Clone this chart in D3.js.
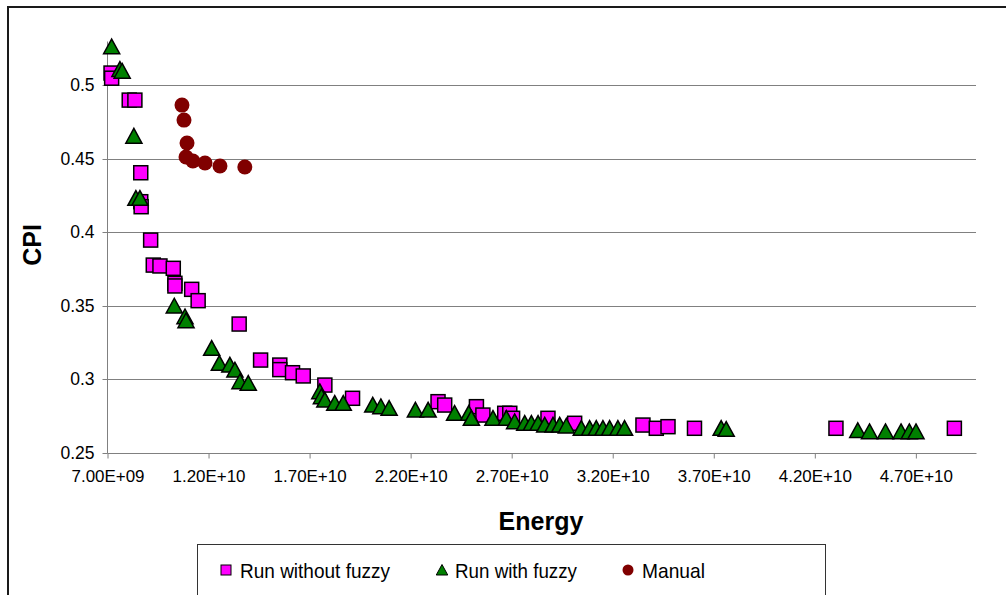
<!DOCTYPE html>
<html>
<head>
<meta charset="utf-8">
<script src="https://cdn.jsdelivr.net/npm/d3@7"></script>
<style>
  body { margin: 0; background: #fff; }
  svg { display: block; font-family: 'Liberation Sans', Arial, sans-serif; }
</style>
</head>
<body>
<div id="chart"></div>
<script>
const chartWidth = 1006
const chartHeight = 595

// Run without fuzzy (energy, cpi)
const noFuzzyEnergy = [7.20e9, 7.23e9, 8.10e9, 8.38e9, 8.67e9, 8.67e9, 8.69e9, 9.16e9, 9.29e9, 9.62e9,
  10.28e9, 10.36e9, 10.36e9, 11.19e9, 11.51e9, 13.54e9, 14.60e9, 15.55e9, 15.55e9, 16.18e9,
  16.71e9, 17.78e9, 19.15e9, 23.38e9, 23.71e9, 25.28e9, 25.60e9, 26.68e9, 26.93e9, 27.07e9,
  28.82e9, 30.14e9, 33.52e9, 34.18e9, 34.76e9, 36.07e9, 43.07e9, 48.93e9]
const noFuzzyCpi = [0.5082, 0.5047, 0.4898, 0.4898, 0.4404, 0.4207, 0.4173, 0.3946, 0.3776, 0.3770,
  0.3754, 0.3652, 0.3634, 0.3611, 0.3534, 0.3375, 0.3130, 0.3096, 0.3065, 0.3044,
  0.3022, 0.2960, 0.2870, 0.2847, 0.2824, 0.2813, 0.2756, 0.2768, 0.2768, 0.2734,
  0.2734, 0.2700, 0.2688, 0.2666, 0.2677, 0.2666, 0.2666, 0.2666]

// Run with fuzzy
const fuzzyEnergy = [7.23e9, 7.64e9, 7.75e9, 8.33e9, 8.43e9, 8.63e9, 10.33e9, 10.86e9, 10.91e9, 12.18e9,
  12.56e9, 13.08e9, 13.33e9, 13.58e9, 13.99e9, 17.53e9, 17.61e9, 17.78e9, 18.27e9, 18.69e9,
  20.15e9, 20.55e9, 20.96e9, 22.26e9, 22.89e9, 24.20e9, 24.90e9, 25.03e9, 26.10e9, 26.76e9,
  27.17e9, 27.67e9, 28.00e9, 28.33e9, 28.66e9, 29.07e9, 29.40e9, 29.73e9, 30.47e9, 30.88e9,
  31.21e9, 31.54e9, 31.87e9, 32.28e9, 32.61e9, 37.39e9, 37.64e9, 44.15e9, 44.73e9, 45.52e9,
  46.29e9, 46.70e9, 47.03e9]
const fuzzyCpi = [0.5261, 0.5107, 0.5095, 0.4653, 0.4230, 0.4230, 0.3498, 0.3425, 0.3398, 0.3210,
  0.3108, 0.3096, 0.3062, 0.2983, 0.2972, 0.2915, 0.2881, 0.2858, 0.2836, 0.2836,
  0.2824, 0.2813, 0.2802, 0.2790, 0.2790, 0.2768, 0.2768, 0.2734, 0.2734, 0.2734,
  0.2711, 0.2700, 0.2700, 0.2700, 0.2688, 0.2688, 0.2688, 0.2682, 0.2666, 0.2666,
  0.2666, 0.2666, 0.2666, 0.2666, 0.2666, 0.2666, 0.2659, 0.2651, 0.2643, 0.2643,
  0.2643, 0.2643, 0.2643]

// Manual
const manualEnergy = [10.71e9, 10.81e9, 10.96e9, 10.91e9, 11.25e9, 11.85e9, 12.59e9, 13.82e9]
const manualCpi = [0.4864, 0.4762, 0.4606, 0.4511, 0.4484, 0.4470, 0.4450, 0.4443]

const xTicks = [7e9, 12e9, 17e9, 22e9, 27e9, 32e9, 37e9, 42e9, 47e9]
const yTicks = [0.25, 0.3, 0.35, 0.4, 0.45, 0.5]
const seriesNames = ['Run without fuzzy', 'Run with fuzzy', 'Manual']

const colors = { square: '#ff00ff', triangle: '#008000', circle: '#800000' }

const plot = { left: 107, right: 976, top: 41, bottom: 452.7 }

const svg = d3.select('#chart').append('svg')
  .attr('width', chartWidth).attr('height', chartHeight)

// 外框
svg.append('rect')
  .attr('x', 8).attr('y', 7)
  .attr('width', 1010).attr('height', 600)
  .attr('fill', 'none').attr('stroke', '#1a1a1a').attr('stroke-width', 2)

const x = d3.scaleLinear().domain([7e9, 5e10]).range([plot.left, plot.right])
const y = d3.scaleLinear().domain([0.25, 0.53]).range([plot.bottom, plot.top])

// gridlines
svg.append('g')
  .selectAll('line')
  .data(yTicks.slice(1))
  .enter().append('line')
  .attr('x1', plot.left).attr('x2', plot.right)
  .attr('y1', d => Math.round(y(d)) + 0.5).attr('y2', d => Math.round(y(d)) + 0.5)
  .attr('stroke', '#808080').attr('stroke-width', 1)

// y axis
const yAxis = svg.append('g')
  .attr('transform', `translate(${plot.left + 0.5},0.5)`)
  .call(d3.axisLeft(y).tickValues(yTicks).tickFormat(d => String(d)).tickSize(5).tickPadding(8))
yAxis.select('.domain').attr('stroke', '#808080').attr('d', `M0,${plot.top}V${Math.round(plot.bottom)}`)
yAxis.selectAll('.tick line').attr('stroke', '#808080')
yAxis.selectAll('.tick').attr('transform', d => `translate(0,${Math.round(y(d))})`)
yAxis.selectAll('text').attr('font-size', 17.5).attr('fill', '#000').attr('font-family', 'Liberation Sans, Arial')

// x axis
const xAxis = svg.append('g')
  .attr('transform', `translate(0.5,${Math.round(plot.bottom) + 0.5})`)
  .call(d3.axisBottom(x).tickValues(xTicks).tickFormat(d => d3.format('.2e')(d).replace('e+', 'E+').replace(/E\+(\d)$/, 'E+0$1')).tickSize(5).tickPadding(11))
xAxis.select('.domain').attr('stroke', '#808080').attr('d', `M${plot.left},0H${plot.right}`)
xAxis.selectAll('.tick line').attr('stroke', '#808080')
xAxis.selectAll('text')
  .attr('font-size', 17).attr('fill', '#000').attr('font-family', 'Liberation Sans, Arial')
  .attr('textLength', 73).attr('lengthAdjust', 'spacingAndGlyphs')

// axis titles
svg.append('text')
  .attr('x', 541).attr('y', 530)
  .attr('text-anchor', 'middle')
  .attr('font-size', 25).attr('font-weight', 'bold')
  .text('Energy')

svg.append('text')
  .attr('transform', 'translate(41,245) rotate(-90)')
  .attr('text-anchor', 'middle')
  .attr('font-size', 25).attr('font-weight', 'bold')
  .text('CPI')

const marks = svg.append('g')

function trianglePath(s) {
  const w = s * 1.15
  return `M0,${-s * 0.55}L${w / 2},${s * 0.5}L${-w / 2},${s * 0.5}Z`
}

// squares
marks.append('g').selectAll('rect')
  .data(d3.zip(noFuzzyEnergy, noFuzzyCpi))
  .enter().append('rect')
  .attr('x', d => x(d[0]) - 7).attr('y', d => y(d[1]) - 7)
  .attr('width', 14).attr('height', 14)
  .attr('fill', colors.square).attr('stroke', '#000').attr('stroke-width', 1.5)

// triangles
marks.append('g').selectAll('path')
  .data(d3.zip(fuzzyEnergy, fuzzyCpi))
  .enter().append('path')
  .attr('transform', d => `translate(${x(d[0])},${y(d[1])})`)
  .attr('d', trianglePath(14))
  .attr('fill', colors.triangle).attr('stroke', '#000').attr('stroke-width', 1.5)
  .attr('stroke-linejoin', 'miter')

// circles
marks.append('g').selectAll('circle')
  .data(d3.zip(manualEnergy, manualCpi))
  .enter().append('circle')
  .attr('cx', d => x(d[0])).attr('cy', d => y(d[1]))
  .attr('r', 7.5)
  .attr('fill', colors.circle)

// legend
const legend = svg.append('g')
legend.append('rect')
  .attr('x', 197.5).attr('y', 544.5)
  .attr('width', 628).attr('height', 70)
  .attr('fill', '#fff').attr('stroke', '#333').attr('stroke-width', 1)

const legendX = [226, 442, 628]
const legendY = 570
legend.append('rect')
  .attr('x', legendX[0] - 5).attr('y', legendY - 5)
  .attr('width', 10).attr('height', 10)
  .attr('fill', colors.square).attr('stroke', '#000').attr('stroke-width', 1)
legend.append('path')
  .attr('transform', `translate(${legendX[1]},${legendY})`)
  .attr('d', trianglePath(10))
  .attr('fill', colors.triangle).attr('stroke', '#000').attr('stroke-width', 1)
legend.append('circle')
  .attr('cx', legendX[2]).attr('cy', legendY).attr('r', 5.5)
  .attr('fill', colors.circle)

const legendTextX = [240, 455, 642]
const legendTextW = [150, 122, 63]
legend.selectAll('text.lbl')
  .data(seriesNames)
  .enter().append('text')
  .attr('class', 'lbl')
  .attr('x', (d, i) => legendTextX[i])
  .attr('y', legendY + 8)
  .attr('font-size', 21)
  .attr('textLength', (d, i) => legendTextW[i])
  .attr('lengthAdjust', 'spacingAndGlyphs')
  .text(d => d)
</script>
</body>
</html>
